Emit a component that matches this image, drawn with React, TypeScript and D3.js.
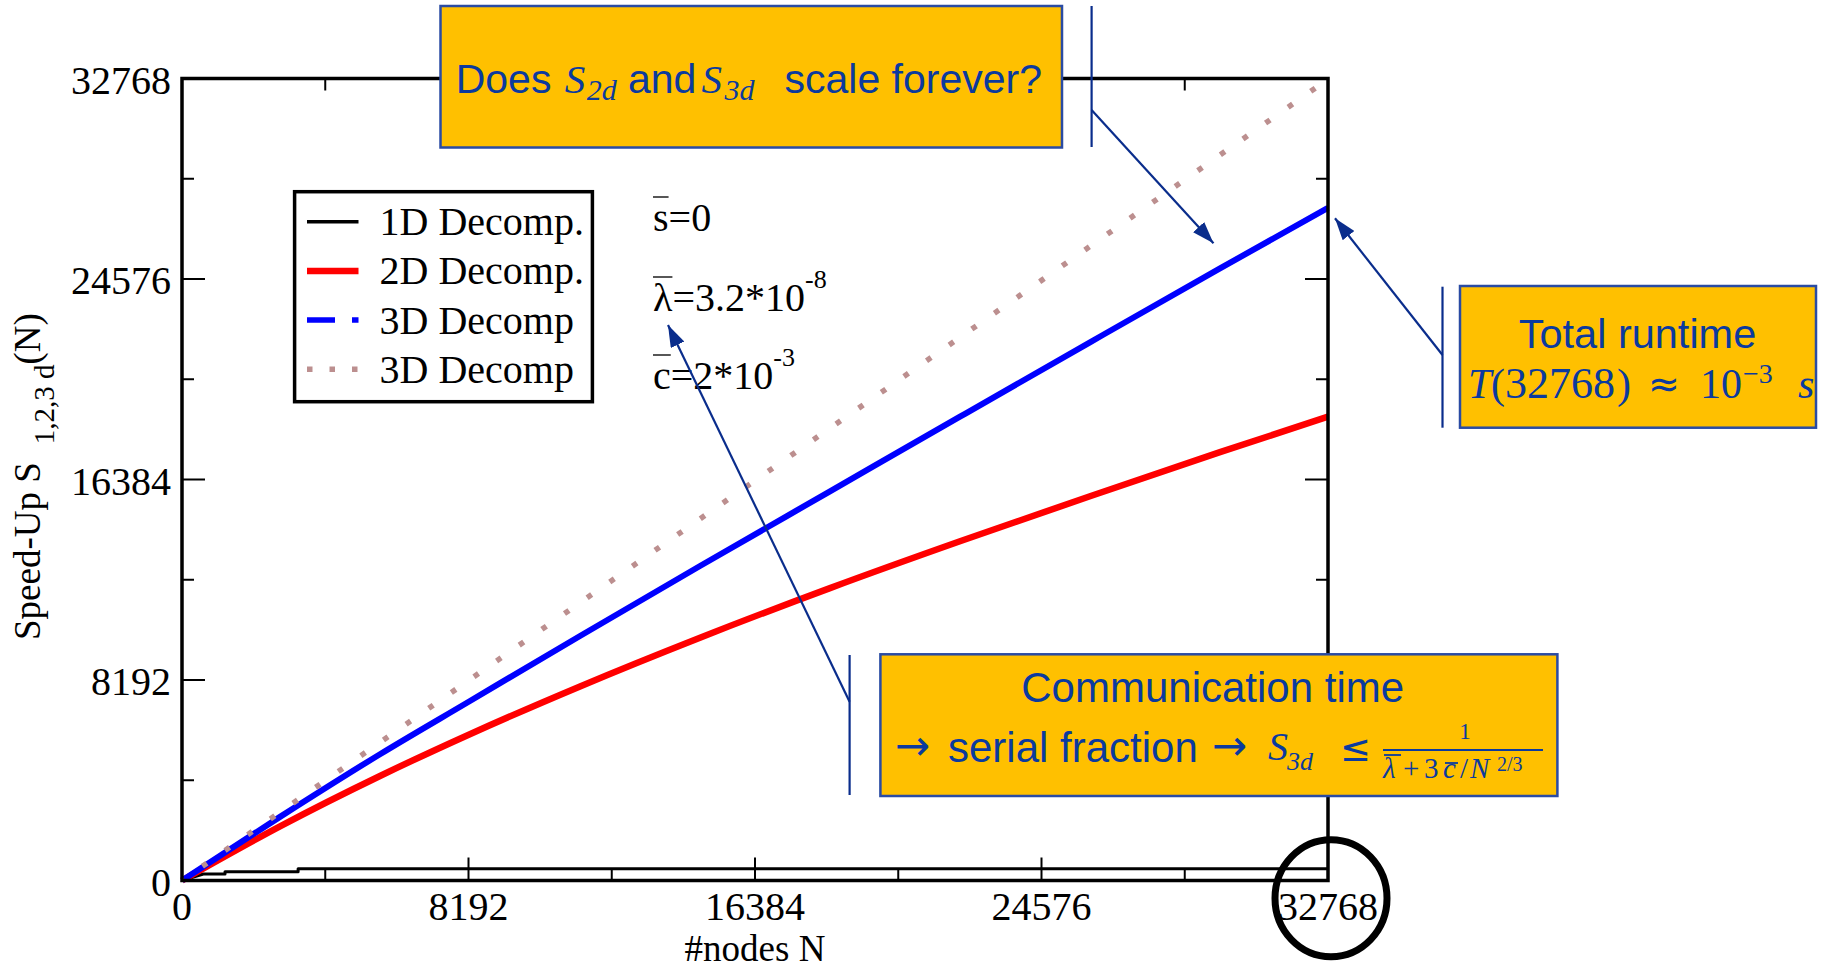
import React, { useRef, useEffect } from "react";
import * as d3 from "d3";

const WIDTH = 1827;
const HEIGHT = 969;

// speed-up curves
const nodesN = [0, 2802, 5661, 8198, 11380, 14811, 18528, 22245, 25962, 29680, 32768];
const speedUp2d = [0, 2213, 4271, 5958, 7931, 9921, 11947, 13861, 15700, 17500, 18950];
const speedUp3d = [0, 2600, 5160, 7305, 9990, 12850, 15900, 18950, 21990, 25010, 27480];

// second 3D curve (dotted), practically ideal
const dottedN = [0, 4096, 8192, 16384, 24576, 32768];
const dottedS = [0, 4080, 8170, 16340, 24520, 32740];

// 1D decomposition saturates almost immediately
const steps1dN = [0, 610, 1230, 1230, 3320, 3320, 32768];
const steps1dS = [0, 265, 265, 360, 360, 475, 475];

const majorTicks = [0, 8192, 16384, 24576, 32768];
const minorTicks = [4096, 12288, 20480, 28672];

const legendLabels = ["1D Decomp.", "2D Decomp.", "3D Decomp", "3D Decomp"];

const SERIF = "'Liberation Serif', 'Times New Roman', serif";
const SANS = "'Liberation Sans', Arial, sans-serif";
const SYMBOL = "'DejaVu Sans', sans-serif";
const NAVY = "#0b3a9e";
const ARROW = "#0a2d8c";
const GOLD = "#ffc000";
const BOX_EDGE = "#2a4ba3";

const seriesStyle = [
	{ color: "#000000", width: 3, dash: null, legendDash: null, legendWidth: 3.5 },
	{ color: "#ff0000", width: 6.5, dash: null, legendDash: null, legendWidth: 6.5 },
	{ color: "#0000ff", width: 6, dash: null, legendDash: "28 17 7 60", legendWidth: 5.5 },
	{ color: "#bc8f8f", width: 5.5, dash: "5.5 22.1", legendDash: "5.5 17", legendWidth: 5.5 },
];

const pairs = (xs: number[], ys: number[]) => xs.map((v, i) => [v, ys[i]] as [number, number]);

const App = () => {
	const svgRef = useRef<SVGSVGElement>(null);

	useEffect(() => {
		const svg = d3.select(svgRef.current);
		svg.selectAll("*").remove();

		svg.append("rect").attr("width", WIDTH).attr("height", HEIGHT).attr("fill", "#fff");

		svg.append("defs")
			.append("marker")
			.attr("id", "head")
			.attr("viewBox", "0 0 10 10")
			.attr("refX", 10)
			.attr("refY", 5)
			.attr("markerWidth", 22)
			.attr("markerHeight", 15)
			.attr("markerUnits", "userSpaceOnUse")
			.attr("preserveAspectRatio", "none")
			.attr("orient", "auto")
			.append("path")
			.attr("d", "M0,0L10,5L0,10z")
			.attr("fill", ARROW);

		const m = { left: 182, right: 1328, top: 78.5, bottom: 880.5 };
		const x = d3.scaleLinear().domain([0, 32768]).range([m.left, m.right]);
		const y = d3.scaleLinear().domain([0, 32768]).range([m.bottom, m.top]);

		const straight = d3.line<[number, number]>().x((d) => x(d[0])).y((d) => y(d[1]));
		const smooth = d3
			.line<[number, number]>()
			.x((d) => x(d[0]))
			.y((d) => y(d[1]))
			.curve(d3.curveMonotoneX);

		const curves = [
			{ d: straight(pairs(steps1dN, steps1dS)), s: seriesStyle[0] },
			{ d: smooth(pairs(nodesN, speedUp2d)), s: seriesStyle[1] },
			{ d: smooth(pairs(nodesN, speedUp3d)), s: seriesStyle[2] },
			{ d: straight(pairs(dottedN, dottedS)), s: seriesStyle[3] },
		];

		const gCurves = svg.append("g").attr("fill", "none");
		curves.forEach((c) => {
			gCurves
				.append("path")
				.attr("d", c.d)
				.attr("stroke", c.s.color)
				.attr("stroke-width", c.s.width)
				.attr("stroke-linejoin", "round")
				.attr("stroke-dasharray", c.s.dash)
				.attr("stroke-dashoffset", c.s.dash ? 2.75 : null);
		});

		// frame
		svg.append("rect")
			.attr("x", m.left)
			.attr("y", m.top)
			.attr("width", m.right - m.left)
			.attr("height", m.bottom - m.top)
			.attr("fill", "none")
			.attr("stroke", "#000")
			.attr("stroke-width", 3.5);

		// ticks point inwards on all four sides
		const gTicks = svg.append("g").attr("stroke", "#000").attr("stroke-width", 2);
		const allTicks = [
			...majorTicks.map((v) => ({ v, len: 23 })),
			...minorTicks.map((v) => ({ v, len: 12 })),
		];
		allTicks.forEach(({ v, len }) => {
			gTicks.append("line").attr("x1", m.left).attr("x2", m.left + len).attr("y1", y(v)).attr("y2", y(v));
			gTicks.append("line").attr("x1", m.right).attr("x2", m.right - len).attr("y1", y(v)).attr("y2", y(v));
			gTicks.append("line").attr("x1", x(v)).attr("x2", x(v)).attr("y1", m.bottom).attr("y2", m.bottom - len);
			gTicks.append("line").attr("x1", x(v)).attr("x2", x(v)).attr("y1", m.top).attr("y2", m.top + len);
		});

		const gLabels = svg.append("g").attr("font-family", SERIF).attr("font-size", 40).attr("fill", "#000");
		majorTicks.forEach((v) => {
			gLabels.append("text").attr("x", 171).attr("y", y(v) + 15).attr("text-anchor", "end").text(v);
			gLabels.append("text").attr("x", x(v)).attr("y", 920).attr("text-anchor", "middle").text(v);
		});
		gLabels
			.append("text")
			.attr("x", 755)
			.attr("y", 961)
			.attr("font-size", 37)
			.attr("text-anchor", "middle")
			.text("#nodes N");

		const yTitle = svg
			.append("text")
			.attr("transform", "translate(40,640) rotate(-90)")
			.attr("font-family", SERIF)
			.attr("font-size", 37);
		yTitle.append("tspan").text("Speed-Up S");
		yTitle.append("tspan").attr("font-size", 29).attr("dx", 18).attr("dy", 14).text("1,2,3 d");
		yTitle.append("tspan").attr("dy", -14).text("(N)");

		// legend
		const gLegend = svg.append("g");
		gLegend
			.append("rect")
			.attr("x", 294.6)
			.attr("y", 191.7)
			.attr("width", 297.8)
			.attr("height", 210)
			.attr("fill", "#fff")
			.attr("stroke", "#000")
			.attr("stroke-width", 3.5);
		legendLabels.forEach((label, i) => {
			const s = seriesStyle[i];
			const ry = 221.7 + i * 49.2;
			gLegend
				.append("line")
				.attr("x1", 307)
				.attr("x2", 358.5)
				.attr("y1", ry)
				.attr("y2", ry)
				.attr("stroke", s.color)
				.attr("stroke-width", s.legendWidth)
				.attr("stroke-dasharray", s.legendDash);
			gLegend
				.append("text")
				.attr("x", 379.5)
				.attr("y", ry + 13.5)
				.attr("font-family", SERIF)
				.attr("font-size", 40)
				.text(label);
		});

		// model parameters
		const params = [
			{ sym: "s", rest: "=0", exp: "", base: 231 },
			{ sym: "λ", rest: "=3.2*10", exp: "-8", base: 311 },
			{ sym: "c", rest: "=2*10", exp: "-3", base: 389 },
		];
		const gParams = svg.append("g").attr("font-family", SERIF).attr("font-size", 40);
		params.forEach((p) => {
			const t = gParams.append("text").attr("x", 653).attr("y", p.base);
			const symSpan = t.append("tspan").text(p.sym);
			t.append("tspan").text(p.rest);
			if (p.exp) t.append("tspan").attr("font-size", 26).attr("dy", -23).text(p.exp);
			const w = (symSpan.node() as SVGTSpanElement).getComputedTextLength();
			gParams
				.append("line")
				.attr("x1", 653)
				.attr("x2", 653 + w)
				.attr("y1", p.base - 34)
				.attr("y2", p.base - 34)
				.attr("stroke", "#444")
				.attr("stroke-width", 1.8);
		});

		// callouts
		const gCall = svg.append("g");
		const box = (bx: number, by: number, bw: number, bh: number) =>
			gCall
				.append("rect")
				.attr("x", bx)
				.attr("y", by)
				.attr("width", bw)
				.attr("height", bh)
				.attr("fill", GOLD)
				.attr("stroke", BOX_EDGE)
				.attr("stroke-width", 2.5);
		const bar = (bx: number, y1: number, y2: number) =>
			gCall
				.append("line")
				.attr("x1", bx)
				.attr("x2", bx)
				.attr("y1", y1)
				.attr("y2", y2)
				.attr("stroke", ARROW)
				.attr("stroke-width", 2.2);
		const arrow = (x1: number, y1: number, x2: number, y2: number) =>
			gCall
				.append("line")
				.attr("x1", x1)
				.attr("y1", y1)
				.attr("x2", x2)
				.attr("y2", y2)
				.attr("stroke", ARROW)
				.attr("stroke-width", 2.2)
				.attr("marker-end", "url(#head)");
		const piece = (px: number, py: number, str: string, size: number, opts: any = {}) =>
			gCall
				.append("text")
				.attr("x", px)
				.attr("y", py)
				.attr("font-family", opts.sans ? SANS : opts.symbol ? SYMBOL : SERIF)
				.attr("font-style", opts.italic ? "italic" : null)
				.attr("font-size", size)
				.attr("text-anchor", opts.anchor || "start")
				.attr("fill", NAVY)
				.text(str);
		const overbar = (x1: number, x2: number, by: number) =>
			gCall
				.append("line")
				.attr("x1", x1)
				.attr("x2", x2)
				.attr("y1", by)
				.attr("y2", by)
				.attr("stroke", NAVY)
				.attr("stroke-width", 1.8);

		// top question
		box(440.5, 6, 621.5, 141.5);
		piece(455.7, 92.7, "Does", 41, { sans: true });
		piece(564.7, 92.7, "S", 41, { italic: true });
		piece(586.7, 100, "2d", 30, { italic: true });
		piece(628, 92.7, "and", 41, { sans: true });
		piece(701.6, 92.7, "S", 41, { italic: true });
		piece(724.4, 100, "3d", 30, { italic: true });
		piece(784.5, 92.7, "scale forever?", 41, { sans: true });
		bar(1091.6, 6, 147);
		arrow(1091.6, 110, 1213.5, 243.3);

		// total runtime
		box(1460, 286, 356, 141.7);
		piece(1637.5, 348, "Total runtime", 41.5, { sans: true, anchor: "middle" });
		piece(1468, 398.3, "T", 42, { italic: true });
		piece(1491, 398.3, "(", 42);
		piece(1505, 398.3, "32768", 44);
		piece(1617, 398.3, ")", 42);
		piece(1648, 397, "≈", 38, { symbol: true });
		piece(1700, 398.3, "10", 42);
		piece(1743, 383, "−3", 28);
		piece(1798, 398.3, "s", 42, { italic: true });
		bar(1442.5, 286.7, 427.7);
		arrow(1442.5, 355, 1335, 218.3);

		// communication time
		box(880.4, 654.3, 677, 141.7);
		piece(1212.7, 701.7, "Communication time", 42, { sans: true, anchor: "middle" });
		piece(895, 760, "→", 42, { symbol: true });
		piece(948, 761.7, "serial fraction", 42, { sans: true });
		piece(1212, 760, "→", 42, { symbol: true });
		piece(1268, 760, "S", 40, { italic: true });
		piece(1287, 770, "3d", 26, { italic: true });
		piece(1340, 761, "≤", 37, { symbol: true });
		gCall
			.append("line")
			.attr("x1", 1383)
			.attr("x2", 1543)
			.attr("y1", 750)
			.attr("y2", 750)
			.attr("stroke", NAVY)
			.attr("stroke-width", 2);
		piece(1465, 738.5, "1", 23, { anchor: "middle" });
		piece(1383, 778.3, "λ", 29, { italic: true });
		overbar(1384, 1401, 755);
		piece(1403, 778.3, "+", 29);
		piece(1424, 778.3, "3", 29);
		piece(1443, 778.3, "c", 29, { italic: true });
		overbar(1445, 1458, 763);
		piece(1460, 778.3, "/", 29);
		piece(1470, 778.3, "N", 29, { italic: true });
		piece(1497, 771, "2/3", 20);
		bar(849.6, 655, 795);
		arrow(849.6, 701.7, 668, 325);

		// highlight on the last tick label
		svg.append("ellipse")
			.attr("cx", 1331)
			.attr("cy", 898.3)
			.attr("rx", 56)
			.attr("ry", 58.5)
			.attr("fill", "none")
			.attr("stroke", "#000")
			.attr("stroke-width", 7);
	}, []);

	return (
		<svg
			ref={svgRef}
			width={WIDTH}
			height={HEIGHT}
			style={{ position: "absolute", left: 0, top: 0, display: "block" }}
		/>
	);
};

export default App;
